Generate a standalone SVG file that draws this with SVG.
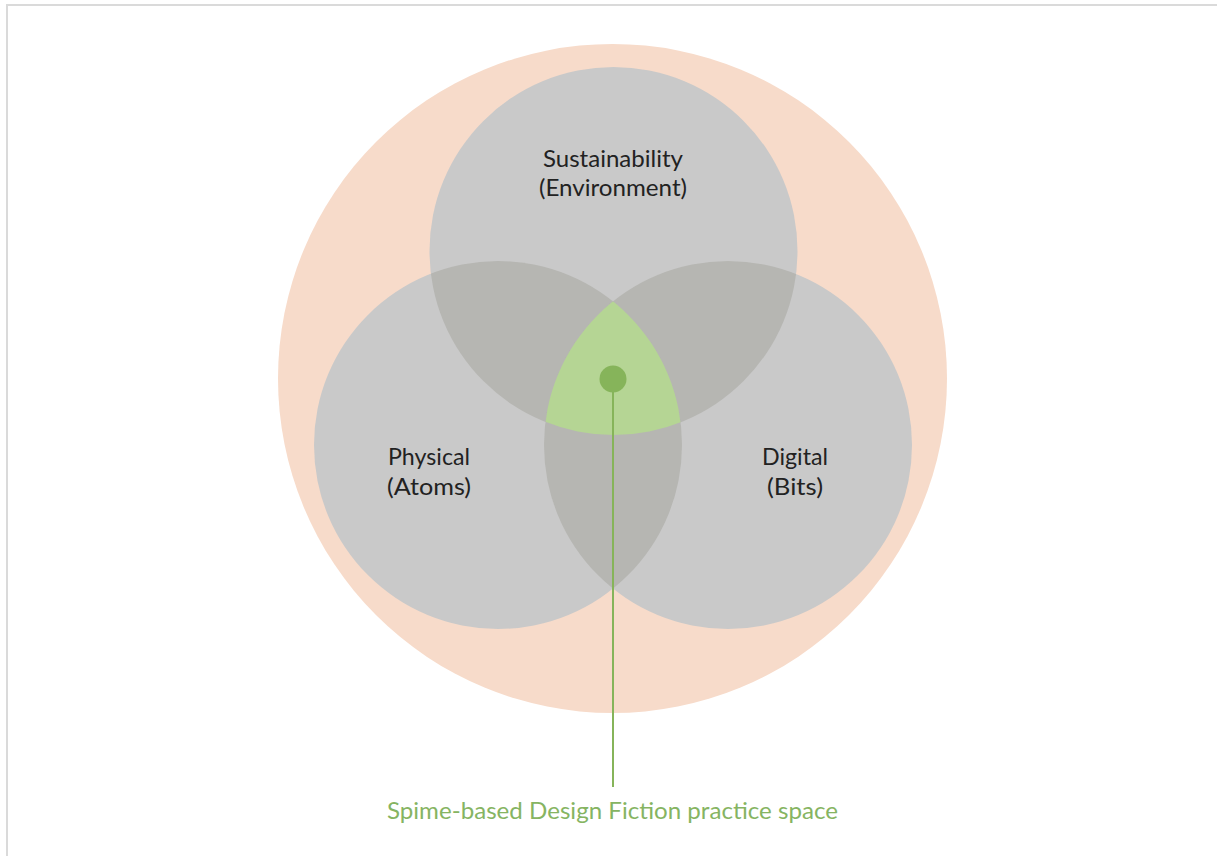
<svg xmlns="http://www.w3.org/2000/svg" width="1217" height="856" viewBox="0 0 1217 856">
<style>
.lbl{font-family:Lato,"Noto Sans",sans-serif;font-size:23px;fill:#222;text-anchor:middle}
.glbl{font-family:Lato,"Noto Sans",sans-serif;font-size:23px;fill:#86B462;text-anchor:middle}
.set{fill:#C9C9C9}
.lens{fill:#B6B6B2}
</style>
<defs>
<clipPath id="cT"><circle cx="613.5" cy="251" r="184"/></clipPath>
<clipPath id="cL"><circle cx="498" cy="445" r="184"/></clipPath>
<clipPath id="cR"><circle cx="728" cy="445" r="184"/></clipPath>
</defs>
<rect width="1217" height="856" fill="#fff"/>
<rect x="7" y="5" width="1260" height="900" fill="none" stroke="#DADADA" stroke-width="2"/>
<g id="universe"><circle cx="612.5" cy="378.5" r="334.5" fill="#F7DBCA"/></g>
<g id="sustainability">
<circle class="set" cx="613.5" cy="251" r="184"/>
</g>
<g id="physical">
<circle class="set" cx="498" cy="445" r="184"/>
</g>
<g id="digital">
<circle class="set" cx="728" cy="445" r="184"/>
</g>
<g id="overlaps">
<circle class="lens" cx="613.5" cy="251" r="184" clip-path="url(#cL)"/>
<circle class="lens" cx="613.5" cy="251" r="184" clip-path="url(#cR)"/>
<circle class="lens" cx="498" cy="445" r="184" clip-path="url(#cR)"/>
</g>
<g id="practice-space">
<g clip-path="url(#cR)"><circle cx="613.5" cy="251" r="184" fill="#B5D594" clip-path="url(#cL)"/></g>
</g>
<g id="connectors">
<line x1="613" y1="379" x2="613" y2="787" stroke="#86B45A" stroke-width="2"/>
<circle cx="613" cy="379" r="13.5" fill="#86B45A"/>
</g>
<g id="labels">
<text class="lbl" x="613" y="167" textLength="140" lengthAdjust="spacingAndGlyphs">Sustainability</text>
<text class="lbl" x="613" y="196" textLength="148" lengthAdjust="spacingAndGlyphs">(Environment)</text>
<text class="lbl" x="429" y="465" textLength="82" lengthAdjust="spacingAndGlyphs">Physical</text>
<text class="lbl" x="429" y="495" textLength="84" lengthAdjust="spacingAndGlyphs">(Atoms)</text>
<text class="lbl" x="795" y="465" textLength="66" lengthAdjust="spacingAndGlyphs">Digital</text>
<text class="lbl" x="795" y="495" textLength="56" lengthAdjust="spacingAndGlyphs">(Bits)</text>
<text class="glbl" x="612.5" y="819" textLength="451" lengthAdjust="spacingAndGlyphs">Spime-based Design Fiction practice space</text>
</g>
</svg>
